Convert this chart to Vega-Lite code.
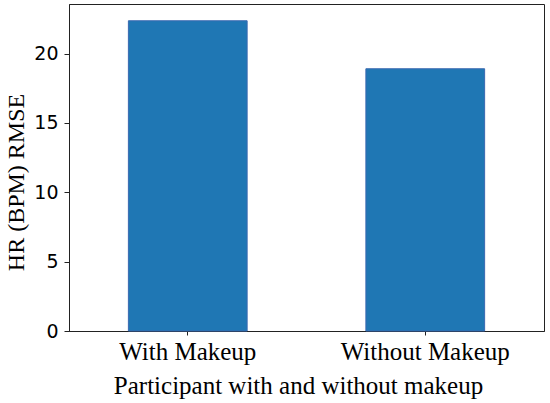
{
  "$schema": "https://vega.github.io/schema/vega-lite/v6.json",
  "autosize": "none",
  "width": 475,
  "height": 327,
  "padding": {"left": 69, "top": 4, "right": 6, "bottom": 72},
  "background": "white",
  "config": {
    "view": {"stroke": "#222", "strokeWidth": 1}
  },
  "data": {
    "values": [
      {"group": "With Makeup", "rmse": 22.37},
      {"group": "Without Makeup", "rmse": 18.91}
    ]
  },
  "mark": {"type": "bar", "color": "#1f77b4", "stroke": "#3a68b0", "strokeWidth": 1},
  "encoding": {
    "x": {
      "field": "group",
      "type": "nominal",
      "sort": null,
      "scale": {"paddingInner": 0.5, "paddingOuter": 0.25},
      "axis": {
        "title": "Participant with and without makeup",
        "titleFont": "Liberation Serif",
        "titleFontSize": 25,
        "titleFontWeight": "normal",
        "titleColor": "#000",
        "titleX": 229,
        "titleY": 62,
        "titleBaseline": "alphabetic",
        "labelAngle": 0,
        "labelFont": "Liberation Serif",
        "labelFontSize": 25,
        "labelColor": "#000",
        "labelPadding": 4,
        "domainColor": "#222",
        "tickColor": "#222",
        "tickSize": 4,
        "grid": false
      }
    },
    "y": {
      "field": "rmse",
      "type": "quantitative",
      "scale": {"domain": [0, 23.58], "nice": false, "zero": true},
      "axis": {
        "title": "HR (BPM) RMSE",
        "titleFont": "Liberation Serif",
        "titleFontSize": 24,
        "titleFontWeight": "normal",
        "titleColor": "#000",
        "titleY": 178,
        "titleX": -46,
        "titleBaseline": "alphabetic",
        "values": [0, 5, 10, 15, 20],
        "labelFont": "DejaVu Sans",
        "labelFontSize": 19,
        "labelColor": "#000",
        "labelPadding": 6,
        "domainColor": "#222",
        "tickColor": "#222",
        "tickSize": 5,
        "grid": false
      }
    }
  }
}
